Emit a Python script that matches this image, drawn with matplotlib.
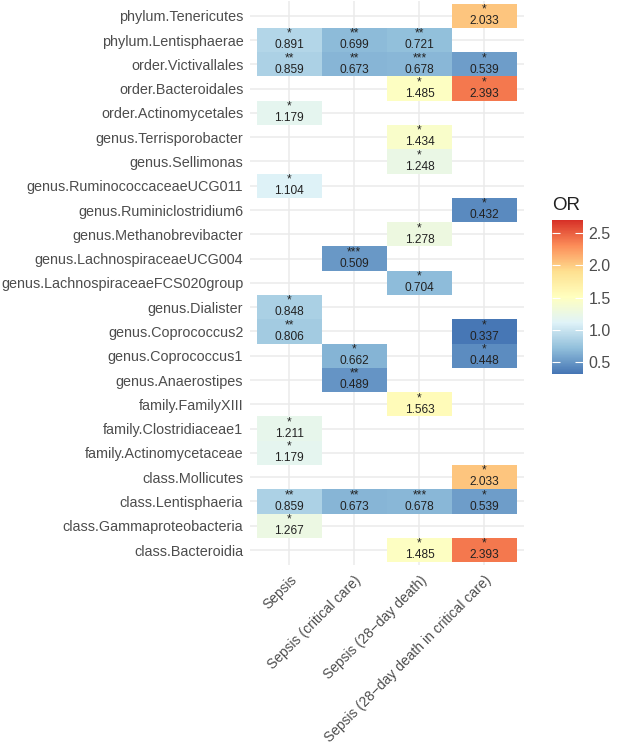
import numpy as np
import matplotlib
matplotlib.use("Agg")
import matplotlib.pyplot as plt
from matplotlib.colors import LinearSegmentedColormap, Normalize
import matplotlib as mpl

plt.rcParams['font.family'] = ['Liberation Sans', 'DejaVu Sans']

taxa = [
    "phylum.Tenericutes", "phylum.Lentisphaerae", "order.Victivallales",
    "order.Bacteroidales", "order.Actinomycetales", "genus.Terrisporobacter",
    "genus.Sellimonas", "genus.RuminococcaceaeUCG011", "genus.Ruminiclostridium6",
    "genus.Methanobrevibacter", "genus.LachnospiraceaeUCG004",
    "genus.LachnospiraceaeFCS020group", "genus.Dialister", "genus.Coprococcus2",
    "genus.Coprococcus1", "genus.Anaerostipes", "family.FamilyXIII",
    "family.Clostridiaceae1", "family.Actinomycetaceae", "class.Mollicutes",
    "class.Lentisphaeria", "class.Gammaproteobacteria", "class.Bacteroidia",
]
outcomes = ["Sepsis", "Sepsis (critical care)", "Sepsis (28\u2212day death)",
            "Sepsis (28\u2212day death in critical care)"]

N = np.nan
or_sepsis = [N, 0.891, 0.859, N, 1.179, N, N, 1.104, N, N, N, N, 0.848, 0.806,
             N, N, N, 1.211, 1.179, N, 0.859, 1.267, N]
or_critical = [N, 0.699, 0.673, N, N, N, N, N, N, N, 0.509, N, N, N,
               0.662, 0.489, N, N, N, N, 0.673, N, N]
or_death28 = [N, 0.721, 0.678, 1.485, N, 1.434, 1.248, N, N, 1.278, N, 0.704, N, N,
              N, N, 1.563, N, N, N, 0.678, N, 1.485]
or_death28_cc = [2.033, N, 0.539, 2.393, N, N, N, N, 0.432, N, N, N, N, 0.337,
                 0.448, N, N, N, N, 2.033, 0.539, N, 2.393]

sig_sepsis = ["", "*", "**", "", "*", "", "", "*", "", "", "", "", "*", "**",
              "", "", "", "*", "*", "", "**", "*", ""]
sig_critical = ["", "**", "**", "", "", "", "", "", "", "", "***", "", "", "",
                "*", "**", "", "", "", "", "**", "", ""]
sig_death28 = ["", "**", "***", "*", "", "*", "*", "", "", "*", "", "*", "", "",
               "", "", "*", "", "", "", "***", "", "*"]
sig_death28_cc = ["*", "", "*", "*", "", "", "", "", "*", "", "", "", "", "*",
                  "*", "", "", "", "", "*", "*", "", "*"]

or_cols = [or_sepsis, or_critical, or_death28, or_death28_cc]
sig_cols = [sig_sepsis, sig_critical, sig_death28, sig_death28_cc]
legend_ticks = [0.5, 1.0, 1.5, 2.0, 2.5]

vals = np.array(or_cols, dtype=float).T  # rows x cols
cmap = LinearSegmentedColormap.from_list(
    "rdylbu7r", ["#4575b4", "#91bfdb", "#e0f3f8", "#ffffbf", "#fee090", "#fc8d59", "#d73027"])
norm = Normalize(vmin=0.32, vmax=2.70)

W, H = 617, 744
fig = plt.figure(figsize=(W / 100, H / 100), dpi=100)
px_l, px_r, px_t, px_b = 250.3, 523.5, 1.2, 564.6
ax = fig.add_axes([px_l / W, 1 - px_b / H, (px_r - px_l) / W, (px_b - px_t) / H])

nr, nc = vals.shape
ax.set_xlim(-0.6, nc - 1 + 0.6)
ax.set_ylim(nr - 1 + 0.6, -0.6)
ax.set_xticks(range(nc))
ax.set_yticks(range(nr))
ax.grid(True, color="#EBEBEB", linewidth=1.1, zorder=0)
ax.set_axisbelow(True)
for s in ax.spines.values():
    s.set_visible(False)

masked = np.ma.masked_invalid(vals)
xe = np.arange(nc + 1) - 0.5
ye = np.arange(nr + 1) - 0.5
ax.pcolormesh(xe, ye, masked, cmap=cmap, norm=norm, zorder=2, edgecolor="none",
              antialiased=False)

for j in range(nc):
    for i in range(nr):
        v = vals[i, j]
        if np.isnan(v):
            continue
        ax.text(j, i - 0.02, f"{sig_cols[j][i]}\n{v:.3f}", ha="center", va="center",
                multialignment="center", linespacing=0.95,
                fontsize=8.6, color="#222222", zorder=3)

ax.set_yticklabels(taxa, fontsize=10.4, color="#4D4D4D")
ax.set_xticklabels(outcomes, fontsize=10.0, color="#4D4D4D", rotation=45,
                   ha="right", va="top", rotation_mode="anchor")
ax.tick_params(axis="both", length=0)
ax.tick_params(axis="y", pad=5)
ax.tick_params(axis="x", pad=6)

# colorbar
cb_l, cb_r, cb_t, cb_b = 552, 583, 220, 374
cax = fig.add_axes([cb_l / W, 1 - cb_b / H, (cb_r - cb_l) / W, (cb_b - cb_t) / H])
cb = mpl.colorbar.ColorbarBase(cax, cmap=cmap, norm=norm, orientation="vertical")
cb.outline.set_visible(False)
cb.set_ticks(legend_ticks)
cb.set_ticklabels([f"{t:.1f}" for t in legend_ticks])
cax.tick_params(which="both", direction="in", left=True, right=True, color="white",
                length=6, width=0.8, labelsize=11.5, labelcolor="#4D4D4D", pad=4)
cax.minorticks_off()
fig.text(cb_l / W, 1 - 205 / H, "OR", fontsize=13.5, color="#222222", ha="left", va="center")

fig.savefig("out.png", dpi=100, facecolor="white")
